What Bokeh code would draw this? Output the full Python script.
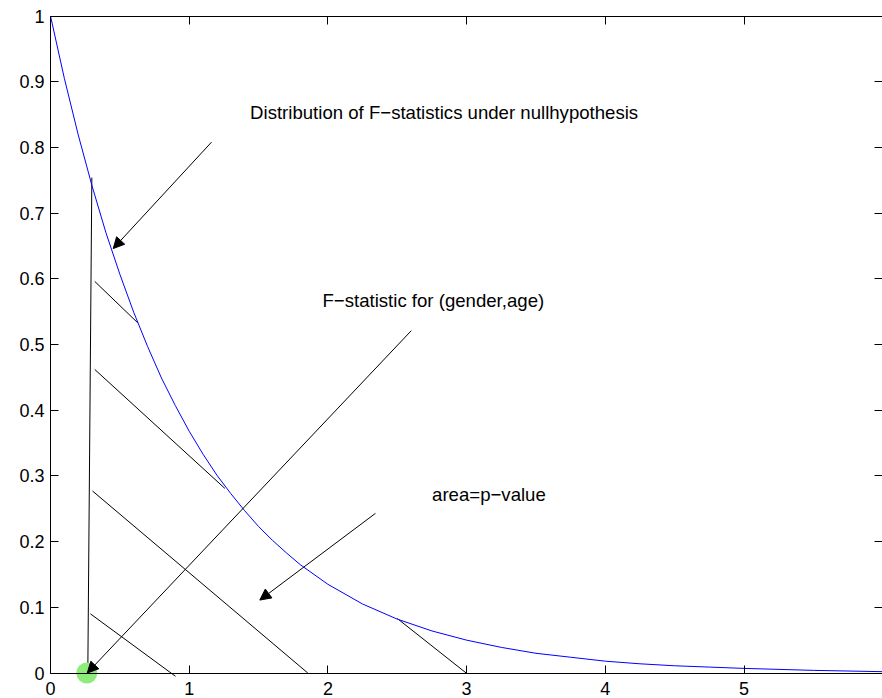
from bokeh.plotting import figure
from bokeh.models import (ColumnDataSource, Range1d, LinearAxis, FixedTicker,
                          Arrow, NormalHead, LabelSet)
from bokeh.core.properties import value
from bokeh.embed import file_html
from bokeh.resources import INLINE

# ---- data ----
curve_x = [0.0, 0.1, 0.2, 0.3, 0.4, 0.5, 0.6, 0.7, 0.8, 0.9, 1.0,
           1.1, 1.2, 1.3, 1.4, 1.5, 1.6, 1.7, 1.8, 1.9, 2.0,
           2.25, 2.5, 2.75, 3.0, 3.25, 3.5, 3.75, 4.0, 4.25, 4.5, 4.75, 5.0, 5.5, 6.0]
curve_y = [1.000, 0.905, 0.819, 0.741, 0.670, 0.607, 0.549, 0.497, 0.449, 0.407, 0.368,
           0.333, 0.301, 0.273, 0.247, 0.223, 0.202, 0.183, 0.165, 0.150, 0.135,
           0.105, 0.082, 0.064, 0.050, 0.039, 0.030, 0.024, 0.018, 0.014, 0.011, 0.009, 0.007, 0.004, 0.002]

hatch_x0 = [0.298, 0.319, 0.319, 0.303, 0.288, 2.500]
hatch_y0 = [0.754, 0.596, 0.462, 0.277, 0.090, 0.083]
hatch_x1 = [0.269, 0.629, 1.257, 1.855, 0.901, 2.997]
hatch_y1 = [0.000, 0.533, 0.281, 0.000, -0.005, 0.000]

arrow_x_start = [1.161, 2.601, 2.343]
arrow_y_start = [0.808, 0.521, 0.243]
arrow_x_end = [0.452, 0.265, 1.509]
arrow_y_end = [0.646, 0.000, 0.111]

note_text = ["Distribution of F\u2212statistics under nullhypothesis",
             "F\u2212statistic for (gender,age)",
             "area=p\u2212value"]
note_x = [1.439, 1.961, 2.751]
note_y = [0.853, 0.567, 0.272]

f_stat_x = [0.262]
f_stat_y = [0.0]

x_ticks = [0, 1, 2, 3, 4, 5, 6]
y_ticks = [0, 0.1, 0.2, 0.3, 0.4, 0.5, 0.6, 0.7, 0.8, 0.9, 1]
y_tick_labels = ["0", "0.1", "0.2", "0.3", "0.4", "0.5", "0.6", "0.7", "0.8", "0.9", "1"]

# ---- figure ----
FONT = "Liberation Sans"
FS = "18px"
NOTE_FS = "18.6px"
PX_X = 138.7   # pixels per x unit
PX_Y = 657.0   # pixels per y unit

p = figure(width=882, height=698, output_backend="svg", toolbar_location=None,
           x_range=Range1d(-50 / PX_X, 832 / PX_X),
           y_range=Range1d(-25.5 / PX_Y, 1 + 15.5 / PX_Y),
           min_border_left=0, min_border_right=0, min_border_top=0, min_border_bottom=0,
           background_fill_color="white", border_fill_color="white")
p.outline_line_color = None
p.grid.visible = False


def style_axis(ax, labels=True):
    ax.major_tick_in = 8
    ax.major_tick_out = 0
    ax.minor_tick_line_color = None
    ax.major_tick_line_color = "black"
    ax.axis_line_color = "black"
    ax.major_label_text_font = FONT
    ax.major_label_text_font_size = FS
    ax.major_label_text_color = "black" if labels else None


xb = p.xaxis[0]
xb.ticker = FixedTicker(ticks=x_ticks)
xb.fixed_location = 0
xb.bounds = (0, 6)
xb.major_label_standoff = 9
style_axis(xb)

yl = p.yaxis[0]
yl.ticker = FixedTicker(ticks=y_ticks)
yl.major_label_overrides = {t: s for t, s in zip(y_ticks, y_tick_labels)}
yl.fixed_location = 0
yl.bounds = (0, 1)
yl.major_label_standoff = 6
style_axis(yl)

xt = LinearAxis(ticker=FixedTicker(ticks=x_ticks), fixed_location=1, bounds=(0, 6))
style_axis(xt, labels=False)
p.add_layout(xt, "above")

yr = LinearAxis(ticker=FixedTicker(ticks=y_ticks), fixed_location=6, bounds=(0, 1))
style_axis(yr, labels=False)
yr.axis_line_color = None
p.add_layout(yr, "right")

# hatch lines
hatch = ColumnDataSource(dict(x0=hatch_x0, y0=hatch_y0, x1=hatch_x1, y1=hatch_y1))
p.segment(x0="x0", y0="y0", x1="x1", y1="y1", source=hatch, line_color="black", line_width=1)

# distribution curve
p.line(curve_x, curve_y, line_color="#0000ff", line_width=1)

# observed F statistic
p.scatter(f_stat_x, f_stat_y, size=21, fill_color="#8eec7a", line_color=None)

# arrows
arr = ColumnDataSource(dict(xs=arrow_x_start, ys=arrow_y_start, xe=arrow_x_end, ye=arrow_y_end))
p.add_layout(Arrow(source=arr, x_start="xs", y_start="ys", x_end="xe", y_end="ye",
                   line_color="black", line_width=1,
                   end=NormalHead(size=11, fill_color="black", line_color="black", line_width=1)))

# notes
notes = ColumnDataSource(dict(x=note_x, y=note_y, t=note_text))
p.add_layout(LabelSet(x="x", y="y", text="t", source=notes, text_font=value(FONT),
                      text_font_size=value(NOTE_FS), text_color="black",
                      text_align="left", text_baseline="middle"))

open("out.html", "w").write(file_html(p, INLINE))
